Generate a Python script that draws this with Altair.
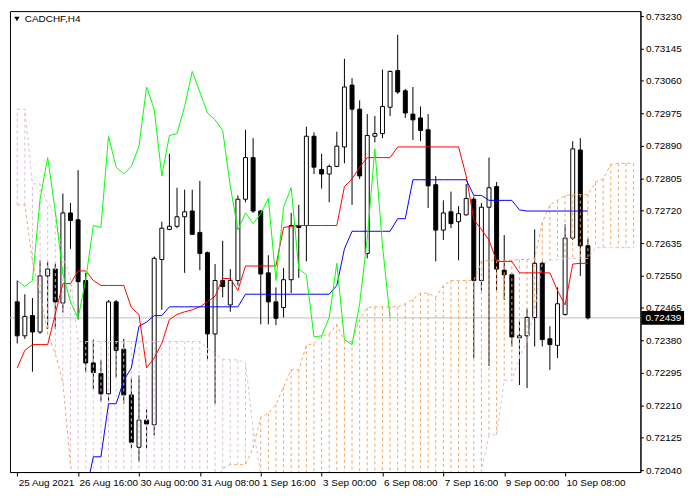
import altair as alt
import pandas as pd

# ---- data (CADCHF H4, 25 Aug - 10 Sep 2021) ----
opens = [0.72481, 0.72392, 0.72445, 0.72402, 0.72549, 0.72567, 0.72478, 0.72714, 0.72696, 0.72537,
         0.72321, 0.72293, 0.72240, 0.72481, 0.72357, 0.72237, 0.72100, 0.72171, 0.72159, 0.72592,
         0.72671, 0.72679, 0.72704, 0.72719, 0.72663, 0.72610, 0.72397, 0.72537, 0.72473, 0.72537,
         0.72750, 0.72859, 0.72719, 0.72557, 0.72481, 0.72466, 0.72539, 0.72681, 0.72681, 0.72915,
         0.72828, 0.72816, 0.72836, 0.72887, 0.73049, 0.72986, 0.72608, 0.72915, 0.72922, 0.72991,
         0.73087, 0.73034, 0.72973, 0.72963, 0.72932, 0.72788, 0.72669, 0.72717, 0.72691, 0.72709,
         0.72750, 0.72537, 0.72729, 0.72783, 0.72564, 0.72552, 0.72387, 0.72392, 0.72440, 0.72582,
         0.72384, 0.72367, 0.72448, 0.72648, 0.72879, 0.72628]
highs = [0.72537, 0.72501, 0.72491, 0.72590, 0.72587, 0.72582, 0.72765, 0.72740, 0.72826, 0.72557,
         0.72382, 0.72329, 0.72486, 0.72486, 0.72384, 0.72283, 0.72288, 0.72199, 0.72600, 0.72691,
         0.72869, 0.72780, 0.72775, 0.72775, 0.72798, 0.72613, 0.72580, 0.72641, 0.72567, 0.72760,
         0.72932, 0.72910, 0.72722, 0.72603, 0.72519, 0.72570, 0.72714, 0.72735, 0.72940, 0.72925,
         0.72869, 0.72841, 0.72927, 0.73118, 0.73067, 0.73009, 0.72973, 0.72968, 0.73090, 0.73087,
         0.73181, 0.73039, 0.73044, 0.72993, 0.72973, 0.72811, 0.72747, 0.72770, 0.72732, 0.72790,
         0.72757, 0.72740, 0.72859, 0.72795, 0.72656, 0.72557, 0.72430, 0.72463, 0.72671, 0.72587,
         0.72417, 0.72519, 0.72684, 0.72902, 0.72910, 0.72646]
lows = [0.72372, 0.72384, 0.72298, 0.72397, 0.72410, 0.72410, 0.72453, 0.72620, 0.72435, 0.72296,
        0.72252, 0.72220, 0.72220, 0.72283, 0.72214, 0.72098, 0.72062, 0.72098, 0.72131, 0.72460,
        0.72669, 0.72674, 0.72557, 0.72656, 0.72564, 0.72329, 0.72214, 0.72493, 0.72455, 0.72524,
        0.72742, 0.72714, 0.72422, 0.72422, 0.72420, 0.72440, 0.72504, 0.72544, 0.72587, 0.72816,
        0.72778, 0.72742, 0.72834, 0.72844, 0.72735, 0.72803, 0.72595, 0.72899, 0.72910, 0.72968,
        0.73026, 0.72963, 0.72905, 0.72902, 0.72727, 0.72587, 0.72643, 0.72674, 0.72590, 0.72707,
        0.72334, 0.72511, 0.72313, 0.72511, 0.72486, 0.72364, 0.72263, 0.72255, 0.72364, 0.72364,
        0.72303, 0.72334, 0.72445, 0.72643, 0.72549, 0.72435]
closes = [0.72392, 0.72443, 0.72402, 0.72549, 0.72567, 0.72481, 0.72714, 0.72694, 0.72534, 0.72321,
          0.72296, 0.72240, 0.72481, 0.72354, 0.72237, 0.72113, 0.72171, 0.72161, 0.72595, 0.72674,
          0.72679, 0.72704, 0.72717, 0.72658, 0.72608, 0.72397, 0.72537, 0.72521, 0.72537, 0.72750,
          0.72859, 0.72719, 0.72554, 0.72481, 0.72438, 0.72539, 0.72681, 0.72676, 0.72915, 0.72834,
          0.72816, 0.72836, 0.72889, 0.73044, 0.72986, 0.72811, 0.72917, 0.72922, 0.72993, 0.73085,
          0.73031, 0.72976, 0.72958, 0.72930, 0.72785, 0.72669, 0.72714, 0.72686, 0.72712, 0.72752,
          0.72537, 0.72729, 0.72780, 0.72567, 0.72552, 0.72389, 0.72392, 0.72440, 0.72582, 0.72382,
          0.72369, 0.72476, 0.72648, 0.72882, 0.72628, 0.72439]

tenkan = [0.72308, 0.72354, 0.72369, 0.72369, 0.72369, 0.72449, 0.72529, 0.72529, 0.72562, 0.72562,
          0.72537, 0.72524, 0.72524, 0.72524, 0.72524, 0.72466, 0.72448, 0.72308, 0.72334, 0.72372,
          0.72435, 0.72448, 0.72455, 0.72460, 0.72468, 0.72481, 0.72496, 0.72542, 0.72542, 0.72511,
          0.72575, 0.72575, 0.72575, 0.72575, 0.72575, 0.72676, 0.72679, 0.72681, 0.72681, 0.72681,
          0.72681, 0.72681, 0.72681, 0.72783, 0.72803, 0.72834, 0.72859, 0.72859, 0.72859, 0.72859,
          0.72887, 0.72887, 0.72887, 0.72887, 0.72887, 0.72887, 0.72887, 0.72887, 0.72887, 0.72811,
          0.72696, 0.72671, 0.72643, 0.72587, 0.72587, 0.72587, 0.72557, 0.72557, 0.72557, 0.72557,
          0.72557, 0.72511, 0.72473, 0.72580, 0.72582, 0.72582]
kijun = [None, None, None, None, None, None, None, None, None, 0.71979,
         0.72075, 0.72075, 0.72214, 0.72214, 0.72275, 0.72308, 0.72417, 0.72428, 0.72445, 0.72445,
         0.72468, 0.72468, 0.72468, 0.72468, 0.72468, 0.72468, 0.72468, 0.72468, 0.72468, 0.72468,
         0.72501, 0.72501, 0.72501, 0.72501, 0.72501, 0.72501, 0.72501, 0.72501, 0.72501, 0.72501,
         0.72501, 0.72501, 0.72524, 0.72620, 0.72666, 0.72666, 0.72666, 0.72666, 0.72666, 0.72666,
         0.72699, 0.72699, 0.72801, 0.72801, 0.72801, 0.72801, 0.72801, 0.72801, 0.72801, 0.72801,
         0.72760, 0.72760, 0.72747, 0.72747, 0.72747, 0.72747, 0.72722, 0.72719, 0.72719, 0.72719,
         0.72719, 0.72719, 0.72719, 0.72719, 0.72719, 0.72719]
span_a = [0.72735, 0.72735, 0.72587, 0.72504, 0.72397, 0.72346, 0.72270, 0.72055, 0.71950, 0.71950,
          0.71950, 0.71950, 0.71950, 0.71950, 0.71950, 0.71950, 0.71950, 0.71950, 0.71950, 0.71950,
          0.71950, 0.71950, 0.71950, 0.71950, 0.71950, 0.71950, 0.72004, 0.72044, 0.72055, 0.72055,
          0.72055, 0.72098, 0.72179, 0.72189, 0.72212, 0.72258, 0.72303, 0.72303, 0.72367, 0.72372,
          0.72392, 0.72397, 0.72422, 0.72379, 0.72377, 0.72435, 0.72466, 0.72468, 0.72468, 0.72468,
          0.72468, 0.72476, 0.72488, 0.72504, 0.72504, 0.72493, 0.72524, 0.72537, 0.72537, 0.72537,
          0.72537, 0.72587, 0.72590, 0.72590, 0.72590, 0.72590, 0.72592, 0.72592, 0.72595, 0.72689,
          0.72735, 0.72747, 0.72760, 0.72762, 0.72762, 0.72762, 0.72795, 0.72803, 0.72841, 0.72844,
          0.72844, 0.72844]
span_b = [0.72986, 0.72986, 0.72790, 0.72790, 0.72740, 0.72714, 0.72600, 0.72544, 0.72377, 0.72377,
          0.72377, 0.72377, 0.72377, 0.72377, 0.72377, 0.72377, 0.72377, 0.72377, 0.72377, 0.72377,
          0.72377, 0.72377, 0.72377, 0.72377, 0.72377, 0.72359, 0.72346, 0.72331, 0.72329, 0.72329,
          0.72321, 0.72151, 0.72029, 0.71950, 0.71950, 0.71950, 0.71950, 0.71950, 0.71950, 0.71950,
          0.71950, 0.71950, 0.71950, 0.71950, 0.71950, 0.71950, 0.71950, 0.71950, 0.71950, 0.71950,
          0.71950, 0.71950, 0.71950, 0.71950, 0.71950, 0.71950, 0.71950, 0.71950, 0.71950, 0.71950,
          0.71953, 0.72037, 0.72131, 0.72133, 0.72275, 0.72275, 0.72334, 0.72377, 0.72460, 0.72582,
          0.72590, 0.72592, 0.72595, 0.72595, 0.72595, 0.72595, 0.72623, 0.72623, 0.72623, 0.72623,
          0.72623, 0.72623]

last_price = 0.72439
symbol_title = "CADCHF,H4"
date_labels = ["25 Aug 2021", "26 Aug 16:00", "30 Aug 00:00", "31 Aug 08:00", "1 Sep 16:00",
               "3 Sep 00:00", "6 Sep 08:00", "7 Sep 16:00", "9 Sep 00:00", "10 Sep 08:00"]
date_positions = [0, 8, 16, 24, 32, 40, 48, 56, 64, 72]
price_ticks = [0.72040, 0.72125, 0.72210, 0.72295, 0.72380, 0.72465, 0.72550, 0.72635,
               0.72720, 0.72805, 0.72890, 0.72975, 0.73060, 0.73145, 0.73230]
chikou_shift = 26

# ---- tables ----
n = len(closes)
candles = pd.DataFrame({"i": range(n), "open": opens, "high": highs, "low": lows, "close": closes})
candles["dir"] = ["up" if c >= o else "down" for o, c in zip(opens, closes)]
lines = pd.DataFrame({"i": range(n), "tenkan": tenkan, "kijun": kijun})
chikou = pd.DataFrame({"i": range(n - chikou_shift), "chikou": closes[chikou_shift:]})
cloud = pd.DataFrame({"i": range(len(span_a)), "a": span_a, "b": span_b})
cloud["top"] = ["A" if a >= b else "B" for a, b in zip(span_a, span_b)]
tag = pd.DataFrame({"p": [last_price], "label": [f"{last_price:.5f}"]})
title_df = pd.DataFrame({"t": [symbol_title]})

FONT = "Liberation Sans"
W, H = 636, 465
xs = alt.Scale(domain=[-0.3, 81.25], nice=False, zero=False)
ys = alt.Scale(domain=[0.72035, 0.73243], nice=False, zero=False)

label_expr = "[" + ",".join(f"'{s}'" for s in date_labels) + "][round(datum.value/8)]"
x_axis = alt.Axis(values=date_positions, labelExpr=label_expr, title=None, grid=False,
                  orient="bottom", tickSize=4, tickColor="black", domainColor="black",
                  labelAlign="left", labelOffset=1, labelFont=FONT, labelFontSize=10,
                  labelColor="black", labelPadding=2, labelOverlap=False, labelFlush=False)
y_axis = alt.Axis(orient="right", values=price_ticks, format=".5f", title=None, grid=False,
                  tickSize=3, tickColor="black", domainColor="black", labelFont=FONT,
                  labelFontSize=10, labelColor="black", labelPadding=2)

X = alt.X("i:Q", scale=xs, axis=x_axis)

def Y(field):
    return alt.Y(f"{field}:Q", scale=ys, axis=y_axis)

price_line = alt.Chart(tag).mark_rule(color="#c0c0c0", strokeWidth=1).encode(y=Y("p"))

wicks = alt.Chart(candles).mark_rule(color="black", strokeWidth=1, clip=True).encode(
    x=X, y=Y("low"), y2="high:Q")
bodies = alt.Chart(candles).mark_bar(size=4, stroke="black", strokeWidth=1, clip=True).encode(
    x=X, y=Y("open"), y2="close:Q",
    fill=alt.Fill("dir:N", scale=alt.Scale(domain=["up", "down"], range=["white", "black"]), legend=None))

hatch = alt.Chart(cloud).mark_rule(strokeWidth=1, strokeDash=[3, 3], clip=True).encode(
    x=X, y=Y("a"), y2="b:Q",
    color=alt.Color("top:N", scale=alt.Scale(domain=["A", "B"], range=["#f4a460", "#d8bfd8"]), legend=None))
line_a = alt.Chart(cloud).mark_line(color="#f4a460", strokeWidth=1, strokeDash=[3, 3], clip=True).encode(
    x=X, y=Y("a"))
line_b = alt.Chart(cloud).mark_line(color="#d8bfd8", strokeWidth=1, strokeDash=[3, 3], clip=True).encode(
    x=X, y=Y("b"))
tenkan_line = alt.Chart(lines).mark_line(color="#ff0000", strokeWidth=1, clip=True).encode(
    x=X, y=Y("tenkan"))
kijun_line = alt.Chart(lines).mark_line(color="#0000ff", strokeWidth=1, clip=True).encode(
    x=X, y=Y("kijun"))
chikou_line = alt.Chart(chikou).mark_line(color="#00ff00", strokeWidth=1, clip=True).encode(
    x=X, y=Y("chikou"))

tag_box = alt.Chart(tag).mark_rule(color="black", strokeWidth=14).encode(
    y=Y("p"), x=alt.value(W + 1), x2=alt.value(W + 44))
tag_text = alt.Chart(tag).mark_text(color="white", align="left", baseline="middle",
                                    font=FONT, fontSize=10).encode(
    y=Y("p"), x=alt.value(W + 5), text="label:N")

tri = alt.Chart(title_df).mark_point(shape="triangle-down", filled=True, color="black",
                                     size=28, opacity=1).encode(x=alt.value(7), y=alt.value(8))
title_txt = alt.Chart(title_df).mark_text(align="left", baseline="middle", font=FONT,
                                          fontSize=10, color="black").encode(
    x=alt.value(15), y=alt.value(8), text="t:N")

chart = alt.layer(price_line, wicks, bodies, hatch, line_a, line_b, tenkan_line, kijun_line,
                  chikou_line, tag_box, tag_text, tri, title_txt).properties(
    width=W, height=H, padding={"left": 1, "top": 1, "right": 1, "bottom": 1},
    background="white"
).configure_view(stroke="black", strokeWidth=1)

chart.save("out.html", embed_options={"renderer": "svg", "actions": False})
